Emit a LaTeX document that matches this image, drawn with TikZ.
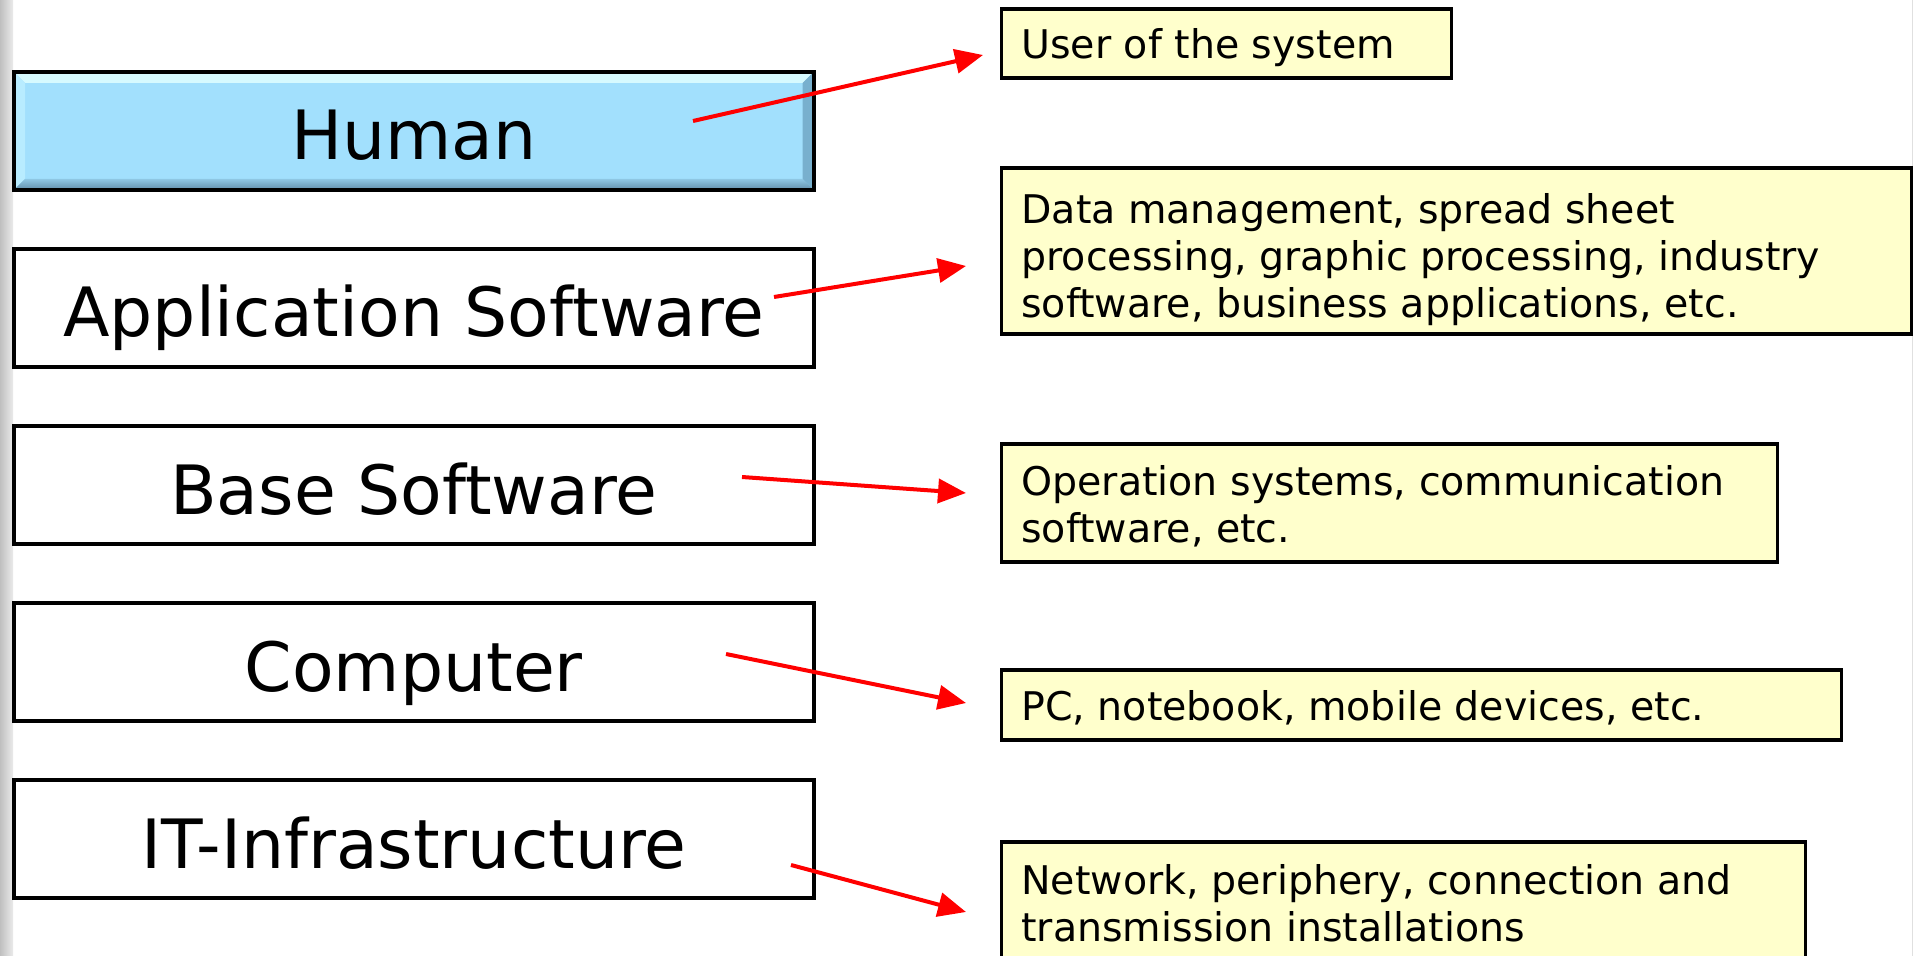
\documentclass[tikz,border=0pt]{standalone}
\usepackage{fontspec}
\setmainfont{DejaVu Sans}
\usetikzlibrary{arrows.meta,calc,backgrounds}
\definecolor{humanblue}{RGB}{162,224,253}
\definecolor{bevtop}{RGB}{214,250,255}
\definecolor{bevleft}{RGB}{184,236,255}
\definecolor{bevright}{RGB}{120,176,206}
\definecolor{bevbot}{RGB}{96,140,168}
\definecolor{noteyellow}{RGB}{255,255,204}
\definecolor{arrowred}{RGB}{255,0,0}
\tikzset{
  layerbox/.style={draw=black, line width=2pt, minimum width=399.8pt, minimum height=59pt,
    inner sep=0pt, text height=29pt, text depth=0pt, font=\fontsize{34}{40}\selectfont},
  notebox/.style={draw=black, line width=1.7pt, fill=noteyellow, anchor=west, inner sep=0pt},
  notetext/.style={anchor=west, align=left, inner sep=0pt, font=\fontsize{19.75}{23.5}\selectfont},
  redarrow/.style={draw=arrowred, line width=2pt, -{Triangle[length=14pt,width=12pt]}}
}
\begin{document}
\begin{tikzpicture}[x=0.5pt,y=-0.5pt]
\useasboundingbox (0,0) rectangle (1914,956);

% layer boxes
\node[layerbox] (human) at (413.8,131) {Human};
\node[layerbox, fill=white] (app) at (413.8,308) {Application Software};
\node[layerbox, fill=white] (base) at (413.8,485) {Base Software};
\node[layerbox, fill=white] (comp) at (413.8,662) {Computer};
\node[layerbox, fill=white] (infra) at (413.8,839) {IT-Infrastructure};

\begin{pgfonlayer}{background}
  \fill[white] (0,0) rectangle (1914,956);
  \shade[left color=black!25, right color=black!8] (0,0) rectangle (13,956);
  \draw[black!12, line width=0.6pt] (1912.5,0) -- (1912.5,956);
  \fill[humanblue] (human.north west) rectangle (human.south east);
  \fill[bevtop] ($(human.north west)+(2,2)$) -- ($(human.north east)+(-2,2)$)
     -- ($(human.north east)+(-13,13)$) -- ($(human.north west)+(13,13)$) -- cycle;
  \fill[bevleft] ($(human.north west)+(2,2)$) -- ($(human.north west)+(13,13)$)
     -- ($(human.south west)+(13,-13)$) -- ($(human.south west)+(2,-2)$) -- cycle;
  \fill[bevright] ($(human.north east)+(-2,2)$) -- ($(human.north east)+(-13,13)$)
     -- ($(human.south east)+(-13,-13)$) -- ($(human.south east)+(-2,-2)$) -- cycle;
  \shade[top color=humanblue!70!bevbot, bottom color=bevbot]
     ($(human.south west)+(2,-2)$) -- ($(human.south west)+(13,-13)$)
     -- ($(human.south east)+(-13,-13)$) -- ($(human.south east)+(-2,-2)$) -- cycle;
\end{pgfonlayer}

% note boxes
\node[notebox, minimum width=225pt, minimum height=34.5pt] (b1) at (1000,43.5) {};
\node[notebox, minimum width=455pt, minimum height=83pt] (b2) at (1000,251) {};
\node[notebox, minimum width=388pt, minimum height=59pt] (b3) at (1000,503) {};
\node[notebox, minimum width=420pt, minimum height=35pt] (b4) at (1000,705) {};
\node[notebox, minimum width=402pt, minimum height=60pt] (b5) at (1000,902) {};

\node[notetext] (t1) at (1021,48) {User of the system};
\node[notetext] (t2) at (1021,259.5)
  {Data management, spread sheet\\processing, graphic processing, industry\\software, business applications, etc.};
\node[notetext] (t3) at (1021,506.5) {Operation systems, communication\\software, etc.};
\node[notetext] (t4) at (1021,707.4) {PC, notebook, mobile devices, etc.};
\node[notetext] (t5) at (1021,903.3) {Network, periphery, connection and\\transmission installations};

% arrow end points
\coordinate (s1) at (693,121);  \coordinate (e1) at (983,55);
\coordinate (s2) at (774,297);  \coordinate (e2) at (966,266);
\coordinate (s3) at (742,477);  \coordinate (e3) at (966,493);
\coordinate (s4) at (726,654);  \coordinate (e4) at (966,703);
\coordinate (s5) at (791,865);  \coordinate (e5) at (966,912);

\draw[redarrow] (s1) -- (e1);
\draw[redarrow] (s2) -- (e2);
\draw[redarrow] (s3) -- (e3);
\draw[redarrow] (s4) -- (e4);
\draw[redarrow] (s5) -- (e5);
\end{tikzpicture}
\end{document}
